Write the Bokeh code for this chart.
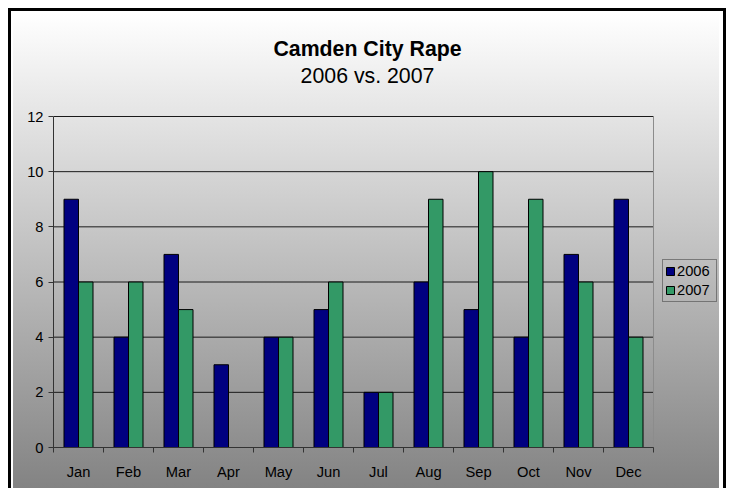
import numpy as np
from bokeh.plotting import figure
from bokeh.models import (Range1d, FixedTicker, Legend, LegendItem, Label,
                          ColumnDataSource)
from bokeh.transform import dodge
from bokeh.embed import file_html
from bokeh.resources import INLINE

months = ["Jan", "Feb", "Mar", "Apr", "May", "Jun",
          "Jul", "Aug", "Sep", "Oct", "Nov", "Dec"]
rape_2006 = [9, 4, 7, 3, 4, 5, 2, 6, 5, 4, 7, 9]
rape_2007 = [6, 6, 5, 0, 4, 6, 2, 9, 10, 9, 6, 4]
y_ticks = [0, 2, 4, 6, 8, 10, 12]
title_text = "Camden City Rape"
subtitle_text = "2006 vs. 2007"

FONT = "Liberation Sans"
N = len(months)
YMAX = y_ticks[-1]
pos = [i + 0.5 for i in range(N)]
src = ColumnDataSource(dict(x=pos, a=rape_2006, b=rape_2007))

W, H = 726, 488
LEFT, PLOT_W, EXTRA = 53, 600, 73      # plot area width + legend room
BOTTOM, PLOT_H, TOPROOM = 41, 331, 116  # plot area height + title room
p = figure(width=W, height=H, output_backend="svg", toolbar_location=None,
           x_range=Range1d(0, N * (PLOT_W + EXTRA) / PLOT_W),
           y_range=Range1d(0, YMAX * (PLOT_H + TOPROOM) / PLOT_H),
           min_border_left=LEFT, min_border_right=0, min_border_top=0,
           min_border_bottom=BOTTOM)
p.background_fill_color = None
p.border_fill_color = None
p.outline_line_color = None
p.styles = {
    "background": (
        "linear-gradient(#000,#000) 8px 8px / 3px 480px no-repeat, "
        "linear-gradient(#000,#000) 8px 8px / 718px 3px no-repeat, "
        "linear-gradient(#000,#000) 723px 8px / 3px 480px no-repeat, "
        "linear-gradient(to bottom, #ffffff, #838383) 13px 13px / 706px 475px no-repeat, "
        "#ffffff"
    ),
}

# horizontal gridlines limited to the plot area (0 .. N)
gsrc = ColumnDataSource(dict(y=y_ticks, x0=[0] * len(y_ticks), x1=[N] * len(y_ticks)))
p.segment(x0="x0", x1="x1", y0="y", y1="y", source=gsrc,
          line_color="#1a1a1a", line_width=1)
# plot-area right border
p.segment(x0=[N], x1=[N], y0=[0], y1=[YMAX], line_color="#8c8c8c", line_width=1)

bw = 0.29
r1 = p.vbar(x=dodge("x", -bw / 2), top="a", width=bw, source=src,
            fill_color="#000080", line_color="#000000", line_width=1)
r2 = p.vbar(x=dodge("x", bw / 2), top="b", width=bw, source=src,
            fill_color="#339966", line_color="#000000", line_width=1)

# x axis: labels at category centers, ticks at category boundaries
xa = p.xaxis[0]
xa.bounds = (0, N)
xa.ticker = FixedTicker(ticks=pos, minor_ticks=list(range(N + 1)))
xa.major_label_overrides = {pp: m for pp, m in zip(pos, months)}
xa.major_tick_line_color = None
xa.minor_tick_line_color = "#333333"
xa.minor_tick_out = 5
xa.minor_tick_in = 0
xa.axis_line_color = "#333333"
xa.major_label_standoff = 10
xa.major_label_text_font = FONT
xa.major_label_text_font_size = "14.7px"
xa.major_label_text_color = "#000000"

ya = p.yaxis[0]
ya.bounds = (0, YMAX)
ya.ticker = FixedTicker(ticks=y_ticks)
ya.major_tick_out = 5
ya.major_tick_in = 0
ya.minor_tick_line_color = None
ya.major_tick_line_color = "#333333"
ya.axis_line_color = "#333333"
ya.major_label_standoff = 5
ya.major_label_text_font = FONT
ya.major_label_text_font_size = "14.7px"
ya.major_label_text_color = "#000000"

p.xgrid.grid_line_color = None
p.ygrid.grid_line_color = None

legend = Legend(items=[LegendItem(label="2006", renderers=[r1]),
                       LegendItem(label="2007", renderers=[r2])],
                location=(609, 145), orientation="vertical",
                glyph_width=10, glyph_height=10, label_standoff=2,
                padding=2, spacing=1, margin=0, label_height=18, label_width=37,
                label_text_font=FONT, label_text_font_size="14.7px",
                label_text_color="#000000",
                border_line_color="#333333", border_line_width=1,
                background_fill_alpha=0)
p.add_layout(legend)

p.add_layout(Label(x=367, y=48.5, x_units="canvas", y_units="canvas",
                   text=title_text, text_align="center",
                   text_baseline="alphabetic", text_font=FONT,
                   text_color="#000000",
                   text_font_style="bold", text_font_size="21.3px"))
p.add_layout(Label(x=367, y=75, x_units="canvas", y_units="canvas",
                   text=subtitle_text, text_align="center",
                   text_baseline="alphabetic", text_font=FONT,
                   text_color="#000000",
                   text_font_size="21.3px"))

open("out.html", "w").write(file_html(p, INLINE))
